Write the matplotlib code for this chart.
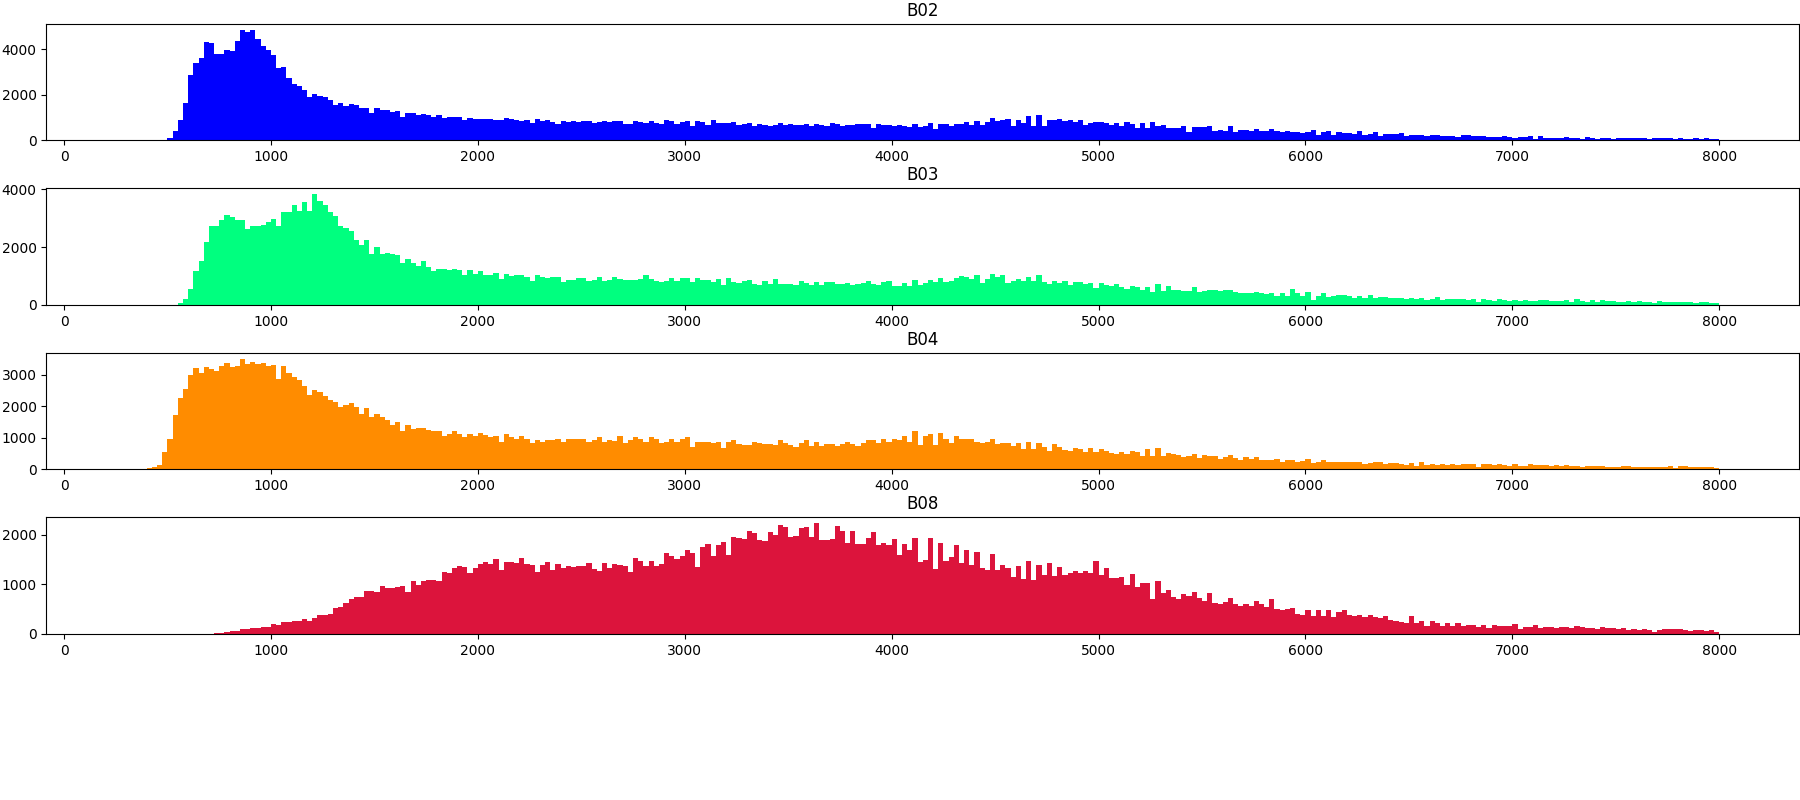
import numpy as np
import matplotlib
matplotlib.use('Agg')
import matplotlib.pyplot as plt

# 25-wide bins from 300 to 8000 (308 bins), counts
bin_edges = np.arange(300, 8001, 25)

bands = ['B02', 'B03', 'B04', 'B08']
colors = ['blue', 'springgreen', 'darkorange', 'crimson']

b02_counts = [
    0, 0, 0, 0,              # 300
    0, 0, 15, 40,
    130, 400, 880, 1630,
    2860, 3390, 3610, 4320,
    4270, 3790, 3790, 3960,
    3920, 4360, 4850, 4760,
    4870, 4450, 4140, 3960,
    3750, 3170, 3220, 2730,  # 1000
    2470, 2380, 2200, 1900,
    2030, 1940, 1900, 1760,
    1540, 1630, 1500, 1590,
    1540, 1410, 1410, 1190,
    1410, 1322, 1322, 1234,
    1278, 1014, 1190, 1190,
    1102, 1146, 1102, 1014,
    1102, 970, 1014, 1014,
    1014, 881, 970, 925,
    925, 925, 925, 900,      # 2000
    881, 970, 925, 881,
    837, 881, 749, 925,
    837, 881, 793, 705,
    837, 793, 837, 815,
    837, 837, 749, 793,
    837, 793, 837, 837,
    705, 705, 837, 793,
    749, 837, 749, 705,
    881, 837, 705, 793,
    837, 617, 837, 793,      # 3000
    661, 881, 749, 749,
    770, 793, 661, 705,
    749, 617, 705, 661,
    617, 661, 749, 661,
    705, 661, 661, 705,
    617, 705, 661, 617,
    749, 705, 617, 661,
    661, 705, 705, 705,
    529, 705, 661, 661,
    617, 661, 640, 573,      # 4000
    705, 573, 617, 749,
    485, 705, 705, 617,
    705, 705, 793, 661,
    837, 661, 793, 970,
    837, 881, 925, 617,
    881, 749, 1058, 617,
    1102, 617, 881, 881,
    925, 837, 881, 793,
    881, 661, 749, 793,
    793, 749, 661, 749,      # 5000
    617, 793, 705, 529,
    749, 529, 793, 617,
    661, 529, 529, 529,
    617, 352, 573, 573,
    600, 650, 430, 470,
    430, 650, 380, 470,
    470, 430, 515, 430,
    430, 515, 430, 380,
    430, 380, 380, 340,
    360, 470, 250, 380,      # 6000
    430, 250, 380, 340,
    340, 295, 430, 250,
    295, 380, 205, 295,
    295, 295, 340, 205,
    250, 250, 250, 205,
    250, 250, 205, 205,
    205, 160, 250, 230,
    205, 205, 205, 160,
    160, 160, 205, 160,
    120, 160, 160, 205,      # 7000
    75, 205, 120, 120,
    120, 120, 160, 120,
    120, 75, 160, 120,
    75, 120, 120, 75,
    120, 120, 110, 120,
    120, 120, 75, 120,
    120, 120, 120, 75,
    120, 75, 75, 120,
    75, 120, 75, 75,
]

b03_counts = [
    0, 0, 0, 0,              # 300
    0, 0, 0, 0,
    0, 0, 69, 206,
    549, 1166, 1509, 2160,
    2709, 2709, 2949, 3120,
    3052, 2949, 2926, 2606,
    2709, 2743, 2777, 2880,
    2983, 2743, 3223, 3200,  # 1000
    3463, 3257, 3566, 3257,
    3830, 3600, 3463, 3223,
    3086, 2709, 2674, 2537,
    2229, 2057, 2229, 1760,
    1989, 1760, 1783, 1749,
    1714, 1440, 1577, 1440,
    1337, 1509, 1303, 1166,
    1234, 1234, 1211, 1234,
    1200, 1029, 1200, 1063,
    1166, 1029, 1030, 1097,  # 2000
    890, 1063, 994, 1029,
    1029, 960, 823, 1029,
    960, 926, 960, 960,
    789, 857, 857, 926,
    926, 823, 857, 960,
    823, 857, 960, 891,
    857, 857, 857, 891,
    1029, 900, 823, 789,
    823, 926, 823, 926,
    926, 789, 926, 869,      # 3000
    869, 789, 891, 686,
    926, 789, 754, 823,
    857, 720, 686, 823,
    720, 891, 720, 740,
    720, 686, 823, 754,
    686, 789, 686, 789,
    789, 720, 720, 754,
    686, 720, 754, 823,
    720, 686, 789, 823,
    651, 651, 754, 651,      # 4000
    857, 686, 754, 857,
    789, 926, 800, 823,
    926, 994, 960, 891,
    1029, 754, 891, 1063,
    960, 1029, 754, 823,
    891, 823, 960, 823,
    1029, 789, 720, 823,
    754, 823, 686, 789,
    789, 720, 754, 583,
    754, 700, 651, 720,      # 5000
    617, 549, 651, 617,
    500, 603, 431, 740,
    466, 671, 500, 500,
    466, 466, 637, 431,
    466, 500, 500, 466,
    500, 500, 431, 397,
    397, 397, 431, 397,
    363, 397, 294, 397,
    294, 534, 397, 294,
    431, 157, 320, 397,      # 6000
    260, 294, 329, 329,
    294, 226, 294, 226,
    329, 226, 260, 260,
    226, 226, 226, 191,
    226, 191, 226, 157,
    191, 260, 157, 191,
    191, 191, 191, 157,
    191, 89, 191, 157,
    123, 191, 160, 123,
    157, 123, 157, 123,      # 7000
    123, 157, 157, 123,
    123, 123, 157, 89,
    191, 123, 89, 157,
    89, 157, 123, 123,
    89, 89, 123, 89,
    123, 89, 89, 54,
    123, 89, 89, 89,
    89, 89, 89, 54,
    89, 89, 54, 54,
]

b04_counts = [
    0, 0, 0, 0,              # 300
    32, 63, 126, 537,
    980, 1739, 2277, 2561,
    3004, 3225, 3067, 3257,
    3194, 3130, 3288, 3383,
    3257, 3288, 3514, 3352,
    3415, 3352, 3383, 3288,
    3320, 2877, 3288, 3067,  # 1000
    2941, 2846, 2656, 2372,
    2530, 2466, 2340, 2213,
    2150, 1992, 2055, 2119,
    1992, 1771, 1960, 1676,
    1771, 1676, 1581, 1423,
    1518, 1233, 1423, 1296,
    1328, 1328, 1265, 1202,
    1233, 1075, 1138, 1202,
    1107, 1012, 1107, 1075,
    1170, 1100, 1012, 1075,  # 2000
    885, 1138, 1012, 980,
    1044, 949, 822, 917,
    885, 917, 917, 949,
    854, 949, 980, 949,
    949, 885, 917, 1012,
    885, 917, 900, 1044,
    822, 917, 1012, 949,
    854, 1012, 949, 822,
    854, 980, 854, 949,
    1012, 696, 854, 885,     # 3000
    854, 822, 854, 664,
    854, 917, 791, 780,
    759, 885, 822, 791,
    791, 759, 917, 822,
    759, 696, 822, 917,
    728, 885, 728, 791,
    791, 728, 791, 854,
    800, 728, 822, 917,
    917, 822, 949, 885,
    980, 917, 1075, 854,     # 4000
    1233, 759, 1044, 1138,
    759, 1170, 980, 822,
    1075, 949, 980, 949,
    885, 833, 854, 949,
    791, 822, 822, 728,
    822, 632, 885, 632,
    822, 696, 569, 791,
    696, 601, 569, 664,
    632, 538, 664, 538,
    632, 600, 506, 474,      # 5000
    538, 474, 569, 538,
    411, 632, 411, 664,
    411, 506, 474, 443,
    379, 411, 474, 348,
    443, 411, 411, 316,
    379, 443, 348, 285,
    379, 316, 379, 285,
    285, 285, 316, 221,
    285, 285, 221, 253,
    316, 190, 250, 285,      # 6000
    221, 221, 221, 221,
    221, 221, 221, 158,
    190, 221, 221, 169,
    190, 190, 158, 126,
    190, 95, 221, 126,
    158, 126, 158, 126,
    158, 137, 158, 158,
    158, 63, 158, 158,
    126, 158, 140, 95,
    158, 116, 95, 158,       # 7000
    126, 126, 126, 95,
    126, 95, 126, 95,
    95, 63, 95, 95,
    95, 95, 63, 84,
    63, 95, 95, 63,
    63, 63, 63, 63,
    63, 80, 95, 32,
    95, 95, 63, 63,
    63, 63, 63, 32,
]

b08_counts = [
    0, 0, 0, 0,              # 300
    0, 0, 0, 0,
    0, 0, 0, 0,
    0, 0, 0, 0,
    0, 15, 25, 40,
    60, 60, 101, 101,
    128, 128, 141, 141,
    202, 182, 243, 243,      # 1000
    263, 263, 303, 270,
    323, 384, 384, 397,
    525, 546, 627, 707,
    748, 748, 869, 860,
    849, 970, 930, 930,
    950, 970, 849, 1072,
    990, 1072, 1092, 1092,
    1072, 1253, 1233, 1334,
    1374, 1354, 1233, 1334,
    1415, 1455, 1415, 1516,  # 2000
    1294, 1455, 1455, 1435,
    1536, 1415, 1380, 1253,
    1395, 1455, 1294, 1415,
    1334, 1374, 1354, 1374,
    1374, 1435, 1314, 1273,
    1435, 1334, 1415, 1395,
    1374, 1253, 1536, 1475,
    1374, 1475, 1374, 1415,
    1637, 1576, 1516, 1576,
    1698, 1620, 1354, 1758,  # 3000
    1819, 1576, 1799, 1859,
    1597, 1954, 1934, 1914,
    2076, 2035, 1894, 1873,
    2055, 1995, 2197, 2157,
    1954, 1975, 2136, 2157,
    1954, 2232, 1894, 1880,
    1914, 2177, 2076, 1833,
    2076, 1819, 1819, 1934,
    2055, 1799, 1833, 1799,
    1914, 1597, 1819, 1698,  # 4000
    1920, 1455, 1495, 1920,
    1314, 1839, 1475, 1556,
    1799, 1435, 1698, 1394,
    1657, 1334, 1293, 1617,
    1293, 1394, 1334, 1152,
    1374, 1111, 1475, 1091,
    1394, 1192, 1435, 1172,
    1354, 1192, 1233, 1273,
    1233, 1274, 1233, 1476,
    1193, 1334, 1132, 1132,  # 5000
    1152, 991, 1213, 950,
    1031, 1031, 708, 1072,
    829, 890, 748, 708,
    809, 768, 849, 728,
    667, 829, 627, 607,
    647, 728, 607, 566,
    607, 566, 667, 607,
    546, 708, 506, 485,
    506, 526, 404, 384,
    485, 364, 485, 364,      # 6000
    485, 343, 445, 485,
    384, 364, 384, 343,
    384, 343, 323, 364,
    283, 269, 243, 222,
    364, 222, 256, 162,
    263, 216, 162, 222,
    162, 222, 162, 175,
    182, 141, 182, 121,
    175, 162, 162, 162,
    202, 101, 141, 141,      # 7000
    182, 128, 141, 141,
    121, 141, 141, 121,
    162, 141, 128, 121,
    108, 141, 121, 128,
    101, 121, 81, 101,
    81, 101, 81, 47,
    88, 101, 101, 101,
    101, 74, 61, 74,
    74, 67, 88, 40,
]

all_counts = [b02_counts, b03_counts, b04_counts, b08_counts]

fig, axes = plt.subplots(5, 1, figsize=(18, 8))
fig.subplots_adjust(left=0.0258, right=0.9994, top=0.97, bottom=0.002, hspace=0.412)

for ax, band, counts, color in zip(axes, bands, all_counts, colors):
    assert len(counts) == len(bin_edges) - 1, band
    ax.hist(bin_edges[:-1], bins=bin_edges, weights=counts, color=color)
    ax.set_title(band)

# the fifth row stays empty, as in the original figure
axes[4].axis('off')

fig.savefig('out.png', dpi=100)
